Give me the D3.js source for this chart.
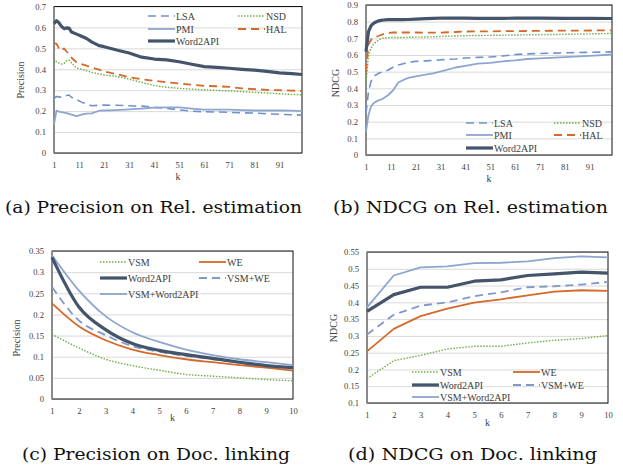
<!DOCTYPE html>
<html>
<head>
<meta charset="utf-8">
<script src="https://cdn.jsdelivr.net/npm/d3@7"></script>
<style>
  body { margin: 0; background: #fff; }
  svg { display: block; }
  .tick text { font-family: "Liberation Serif", "Times New Roman", serif; font-size: 8.6px; fill: #404040; }
  .lbl { font-family: "Liberation Serif", "Times New Roman", serif; font-size: 10px; fill: #404040; }
  .cap { font-family: "DejaVu Serif", serif; font-size: 16px; fill: #111; }
</style>
</head>
<body>
<div id="chart"></div>
<script>
// (a) Precision on Rel. estimation
const kA = [1,2,3,4,5,6,7,8,10,12,14,16,19,21,26,31,36,41,46,51,56,61,66,71,76,81,86,91,96,100];
const aWord2API = [0.618,0.632,0.622,0.605,0.594,0.598,0.597,0.578,0.568,0.558,0.547,0.531,0.513,0.508,0.492,0.478,0.458,0.449,0.445,0.436,0.424,0.413,0.409,0.405,0.400,0.396,0.390,0.383,0.379,0.375];
const aHAL = [0.525,0.522,0.500,0.488,0.500,0.485,0.472,0.455,0.433,0.425,0.417,0.408,0.398,0.390,0.377,0.362,0.352,0.345,0.338,0.332,0.326,0.321,0.319,0.316,0.309,0.305,0.302,0.300,0.298,0.296];
const aNSD = [0.452,0.436,0.430,0.425,0.428,0.440,0.444,0.430,0.406,0.400,0.393,0.386,0.377,0.373,0.366,0.353,0.338,0.322,0.314,0.309,0.305,0.302,0.299,0.297,0.293,0.290,0.287,0.283,0.280,0.278];
const aLSA = [0.261,0.270,0.268,0.266,0.270,0.275,0.277,0.266,0.255,0.243,0.235,0.226,0.228,0.229,0.228,0.226,0.224,0.218,0.213,0.206,0.200,0.197,0.196,0.194,0.192,0.191,0.187,0.185,0.183,0.181];
const aPMI = [0.138,0.202,0.198,0.195,0.193,0.190,0.187,0.183,0.176,0.183,0.188,0.189,0.202,0.203,0.205,0.208,0.212,0.217,0.218,0.218,0.212,0.207,0.207,0.207,0.205,0.203,0.203,0.203,0.202,0.200];

// (b) NDCG on Rel. estimation
const kB = [1,2,3,4,5,6,7,8,10,12,14,16,18,21,25,28,32,37,41,46,51,56,61,66,71,81,91,100];
const bWord2API = [0.62,0.74,0.775,0.79,0.798,0.805,0.808,0.81,0.812,0.812,0.812,0.812,0.813,0.815,0.818,0.82,0.822,0.821,0.821,0.82,0.82,0.82,0.821,0.821,0.821,0.82,0.82,0.819];
const bHAL = [0.5,0.665,0.69,0.703,0.71,0.714,0.72,0.725,0.733,0.735,0.735,0.735,0.735,0.735,0.734,0.734,0.735,0.738,0.741,0.742,0.742,0.743,0.743,0.744,0.745,0.746,0.747,0.748];
const bNSD = [0.43,0.6,0.64,0.665,0.678,0.688,0.697,0.702,0.704,0.705,0.705,0.705,0.706,0.707,0.708,0.709,0.712,0.714,0.716,0.717,0.718,0.719,0.72,0.721,0.722,0.724,0.727,0.729];
const bLSA = [0.25,0.38,0.44,0.47,0.48,0.49,0.495,0.5,0.51,0.528,0.54,0.548,0.555,0.562,0.565,0.567,0.572,0.576,0.582,0.586,0.588,0.594,0.603,0.607,0.609,0.613,0.616,0.619];
const bPMI = [0.14,0.24,0.29,0.31,0.32,0.328,0.333,0.34,0.36,0.39,0.435,0.45,0.463,0.472,0.482,0.49,0.505,0.525,0.535,0.548,0.553,0.562,0.568,0.576,0.58,0.587,0.595,0.603];

// (c) Precision on Doc. linking
const kC = [1,2,3,4,5,6,7,8,9,10];
const cVSM = [0.153,0.121,0.094,0.079,0.068,0.058,0.054,0.050,0.046,0.043];
const cWE = [0.226,0.172,0.139,0.117,0.104,0.094,0.087,0.080,0.074,0.067];
const cWord2API = [0.335,0.218,0.164,0.131,0.115,0.105,0.096,0.087,0.079,0.074];
const cVSMWE = [0.265,0.186,0.151,0.125,0.112,0.102,0.094,0.086,0.079,0.072];
const cVSMWord2API = [0.340,0.257,0.196,0.158,0.135,0.117,0.104,0.094,0.087,0.080];

// (d) NDCG on Doc. linking
const kD = [1,2,3,4,5,6,7,8,9,10];
const dVSM = [0.173,0.226,0.242,0.261,0.269,0.269,0.279,0.287,0.292,0.301];
const dWE = [0.254,0.321,0.359,0.381,0.399,0.409,0.421,0.432,0.436,0.434];
const dWord2API = [0.373,0.423,0.445,0.445,0.463,0.467,0.480,0.485,0.490,0.487];
const dVSMWE = [0.304,0.363,0.390,0.400,0.418,0.430,0.445,0.448,0.453,0.461];
const dVSMWord2API = [0.385,0.480,0.504,0.507,0.517,0.518,0.522,0.532,0.537,0.534];

const ticksKA = [1,11,21,31,41,51,61,71,81,91];
const ticksKC = [1,2,3,4,5,6,7,8,9,10];

const st = {
  Word2API: {color: "#44546a", width: 3.2, dash: null},
  LSA: {color: "#7191cb", width: 1.6, dash: "8,5"},
  PMI: {color: "#8ea5cf", width: 1.8, dash: null},
  NSD: {color: "#70ad47", width: 1.4, dash: "1.5,1.5"},
  HAL: {color: "#d4692a", width: 1.8, dash: "8,5"},
  VSM: {color: "#70ad47", width: 1.4, dash: "1.5,1.5"},
  WE: {color: "#d4692a", width: 1.8, dash: null},
  "VSM+WE": {color: "#7f99c9", width: 1.8, dash: "8,5"},
  "VSM+Word2API": {color: "#8ea5cf", width: 1.8, dash: null}
};

const svg = d3.select("#chart").append("svg")
  .attr("width", 623).attr("height", 471);

function panel(p) {
  const g = svg.append("g");
  const x = d3.scaleLinear().domain(p.xdom).range([p.left, p.right]);
  const y = d3.scaleLinear().domain(p.ydom).range([p.bottom, p.top]);
  const fmt = function(d){ return String(+d.toFixed(3)); };

  // grid + y ticks
  g.append("g")
    .attr("transform", "translate(" + p.left + ",0)")
    .call(d3.axisLeft(y).tickValues(p.yticks).tickSize(-(p.right - p.left)).tickPadding(8).tickFormat(fmt))
    .call(function(a){
      a.select(".domain").remove();
      a.selectAll(".tick line").attr("stroke", "#d9d9d9");
    });

  // x ticks
  g.append("g")
    .attr("transform", "translate(0," + p.bottom + ")")
    .call(d3.axisBottom(x).tickValues(p.xticks).tickSize(0).tickPadding(9))
    .call(function(a){ a.select(".domain").remove(); });

  // border
  g.append("rect")
    .attr("x", p.left).attr("y", p.top)
    .attr("width", p.right - p.left).attr("height", p.bottom - p.top)
    .attr("fill", "none").attr("stroke", "#111").attr("stroke-width", 1);
  g.append("line")
    .attr("x1", p.left).attr("x2", p.left).attr("y1", p.top).attr("y2", p.bottom)
    .attr("stroke", "#8c8c8c").attr("stroke-width", 1.6);

  const line = d3.line()
    .x(function(d){ return x(d[0]); })
    .y(function(d){ return y(d[1]); })
    .curve(p.curve || d3.curveLinear);

  p.series.forEach(function(s){
    const s2 = st[s.name];
    g.append("path")
      .datum(p.k.map(function(k, i){ return [k, s.values[i]]; }))
      .attr("d", line)
      .attr("fill", "none")
      .attr("stroke", s2.color)
      .attr("stroke-width", s2.width)
      .attr("stroke-dasharray", s2.dash)
      .attr("stroke-linejoin", "round");
  });

  // legend
  p.legend.forEach(function(l){
    const s2 = st[l.name];
    g.append("line")
      .attr("x1", l.x).attr("x2", l.x + 27).attr("y1", l.y).attr("y2", l.y)
      .attr("stroke", s2.color).attr("stroke-width", s2.width)
      .attr("stroke-dasharray", s2.dash);
    g.append("text").attr("class", "lbl")
      .attr("x", l.x + 28).attr("y", l.y).attr("dy", "0.35em")
      .text(l.name);
  });

  // axis titles
  g.append("text").attr("class", "lbl")
    .attr("x", (p.left + p.right) / 2).attr("y", p.kY)
    .attr("text-anchor", "middle").text("k");
  g.append("text").attr("class", "lbl")
    .attr("transform", "translate(" + p.yLabX + "," + p.yLabY + ") rotate(-90)")
    .attr("text-anchor", "middle").attr("dy", "0.35em").text(p.ylabel);

  g.append("text").attr("class", "cap")
    .attr("x", p.capX).attr("y", p.capY)
    .attr("textLength", p.capW).attr("lengthAdjust", "spacingAndGlyphs")
    .text(p.caption);
}

panel({
  left: 54, right: 302, top: 6.5, bottom: 153,
  xdom: [1, 100], ydom: [0, 0.7], xticks: ticksKA, yticks: d3.range(0, 0.71, 0.1),
  k: kA, ylabel: "Precision", yLabX: 20, yLabY: 80, kY: 180,
  series: [
    {name: "LSA", values: aLSA}, {name: "PMI", values: aPMI},
    {name: "NSD", values: aNSD}, {name: "HAL", values: aHAL},
    {name: "Word2API", values: aWord2API}
  ],
  legend: [
    {name: "LSA", x: 148, y: 16}, {name: "NSD", x: 238, y: 16},
    {name: "PMI", x: 148, y: 29}, {name: "HAL", x: 238, y: 29},
    {name: "Word2API", x: 148, y: 41}
  ],
  caption: "(a)  Precision on Rel. estimation", capX: 5, capY: 213, capW: 297
});

panel({
  left: 366, right: 612, top: 5, bottom: 155,
  xdom: [1, 100], ydom: [0, 0.9], xticks: ticksKA, yticks: d3.range(0, 0.91, 0.1),
  k: kB, ylabel: "NDCG", yLabX: 335, yLabY: 83, kY: 182,
  series: [
    {name: "LSA", values: bLSA}, {name: "PMI", values: bPMI},
    {name: "NSD", values: bNSD}, {name: "HAL", values: bHAL},
    {name: "Word2API", values: bWord2API}
  ],
  legend: [
    {name: "LSA", x: 466, y: 123}, {name: "NSD", x: 554, y: 123},
    {name: "PMI", x: 466, y: 135}, {name: "HAL", x: 554, y: 135},
    {name: "Word2API", x: 466, y: 148}
  ],
  caption: "(b)  NDCG on Rel. estimation", capX: 333, capY: 213, capW: 275
});

panel({
  left: 52, right: 293, top: 251, bottom: 399,
  xdom: [1, 10], ydom: [0, 0.35], xticks: ticksKC, yticks: d3.range(0, 0.351, 0.05),
  k: kC, ylabel: "Precision", yLabX: 16, yLabY: 338, kY: 421, curve: d3.curveMonotoneX,
  series: [
    {name: "VSM", values: cVSM}, {name: "WE", values: cWE},
    {name: "VSM+WE", values: cVSMWE}, {name: "VSM+Word2API", values: cVSMWord2API},
    {name: "Word2API", values: cWord2API}
  ],
  legend: [
    {name: "VSM", x: 100, y: 262}, {name: "WE", x: 199, y: 262},
    {name: "Word2API", x: 100, y: 278}, {name: "VSM+WE", x: 199, y: 278},
    {name: "VSM+Word2API", x: 100, y: 294}
  ],
  caption: "(c)  Precision on Doc. linking", capX: 22, capY: 460, capW: 268
});

panel({
  left: 367, right: 608, top: 252, bottom: 403,
  xdom: [1, 10], ydom: [0.1, 0.55], xticks: ticksKC, yticks: d3.range(0.1, 0.551, 0.05),
  k: kD, ylabel: "NDCG", yLabX: 333, yLabY: 328, kY: 426,
  series: [
    {name: "VSM", values: dVSM}, {name: "WE", values: dWE},
    {name: "VSM+WE", values: dVSMWE}, {name: "VSM+Word2API", values: dVSMWord2API},
    {name: "Word2API", values: dWord2API}
  ],
  legend: [
    {name: "VSM", x: 412, y: 372}, {name: "WE", x: 513, y: 372},
    {name: "Word2API", x: 412, y: 385}, {name: "VSM+WE", x: 513, y: 385},
    {name: "VSM+Word2API", x: 412, y: 397}
  ],
  caption: "(d)  NDCG on Doc. linking", capX: 348, capY: 460, capW: 249
});
</script>
</body>
</html>
